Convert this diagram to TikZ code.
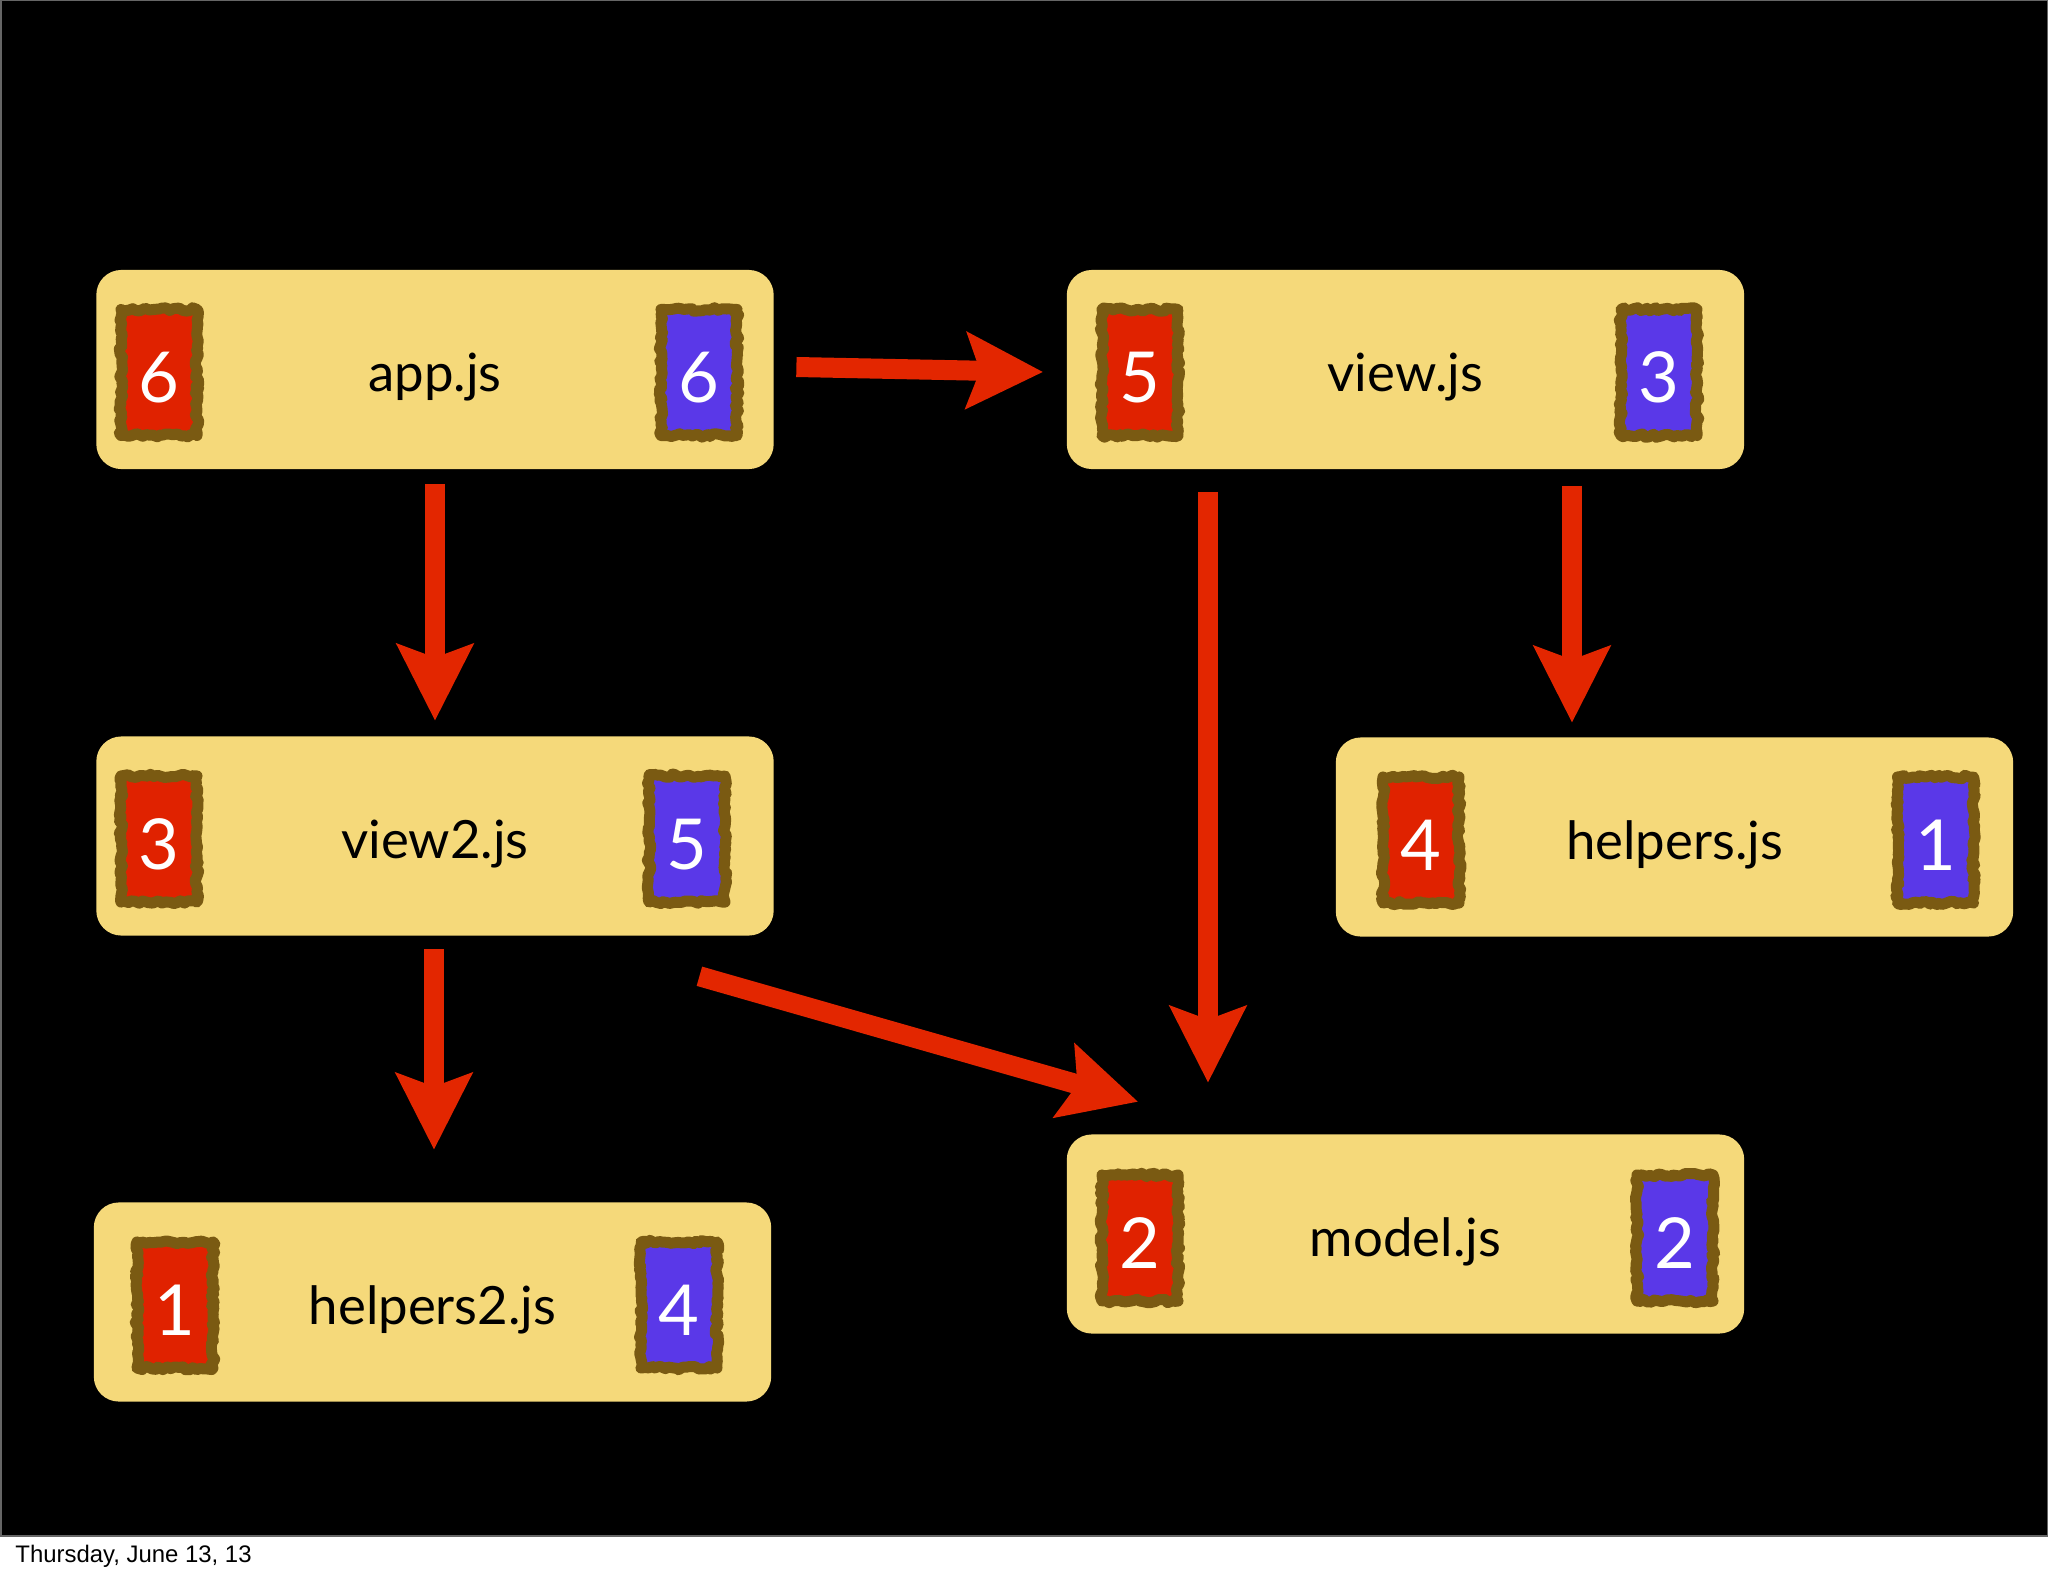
\documentclass[tikz,border=0pt]{standalone}
\usepackage{fontspec}
\setmainfont{Lato}
\newfontfamily\datefont{Liberation Sans}
\usetikzlibrary{arrows.meta,calc,decorations.pathmorphing}

\definecolor{parchment}{HTML}{F5D97A}
\definecolor{badgered}{HTML}{E02200}
\definecolor{badgeblue}{HTML}{5A38E8}
\definecolor{badgerim}{HTML}{7A5A12}
\definecolor{arrowred}{HTML}{E32600}

\tikzset{
  module/.style={shape=rectangle, rounded corners=0.25cm, fill=parchment,
    minimum width=6.77cm, minimum height=1.99cm, text height=0.44cm, text depth=0cm,
    font=\fontsize{15}{15}\selectfont},
  count/.style={shape=rectangle, draw=badgerim, line width=0.11cm, line join=round,
    minimum width=0.76cm, minimum height=1.26cm, inner sep=0pt, text=white,
    text height=0.6cm, text depth=0cm, font=\fontsize{20}{20}\selectfont,
    decorate, decoration={random steps, segment length=1pt, amplitude=0.5pt}},
  incount/.style={count, fill=badgered},
  outcount/.style={count, fill=badgeblue},
  dep/.style={draw=arrowred, line width=0.2cm,
    -{Stealth[length=0.76cm, width=0.75cm, inset=0.13cm]}}
}
\pgfmathsetseed{7}

\begin{document}
\begin{tikzpicture}[x=0.01cm, y=-0.01cm]
  \useasboundingbox (0,0) rectangle (2048,1576);
  \fill [white] (0,0) rectangle (2048,1576);
  \draw [fill=black, draw=black!60, line width=0.02cm] (0.5,0.5) rectangle (2047.5,1535.5);
  \node at (3,1562) [anchor=base west, font=\datefont\fontsize{6.8}{8}\selectfont] (date) {Thursday, June 13, 13};

  % modules
  \node at (435,369.5) [module] (app) {app.js};
  \node at (1405.5,369.5) [module] (view) {view.js};
  \node at (435,836) [module] (view2) {view2.js};
  \node at (1674.5,837) [module] (helpers) {helpers.js};
  \node at (432.5,1302) [module] (helpers2) {helpers2.js};
  \node at (1405.5,1234) [module] (model) {model.js};

  % counts, red left, blue right
  \node at ($(app)+(-276,3)$) [incount] (appin) {6};
  \node at ($(app)+(264,3)$) [outcount] (appout) {6};
  \node at ($(view)+(-265.5,3)$) [incount] (viewin) {5};
  \node at ($(view)+(253.5,3)$) [outcount] (viewout) {3};
  \node at ($(view2)+(-276,3)$) [incount] (view2in) {3};
  \node at ($(view2)+(252,3)$) [outcount] (view2out) {5};
  \node at ($(helpers)+(-253.5,3)$) [incount] (helpersin) {4};
  \node at ($(helpers)+(261,3)$) [outcount] (helpersout) {1};
  \node at ($(helpers2)+(-257.5,3)$) [incount] (helpers2in) {1};
  \node at ($(helpers2)+(246.5,3)$) [outcount] (helpers2out) {4};
  \node at ($(model)+(-265.5,4)$) [incount] (modelin) {2};
  \node at ($(model)+(269.5,4)$) [outcount] (modelout) {2};

  % dependencies
  \draw [dep] ($(app.east)+(22,-2.5)$) -- ($(view.west)+(-23,2.5)$);
  \draw [dep] ($(app.south)+(0,14)$) -- ($(view2.north)+(0,-15)$);
  \draw [dep] ($(view.south)+(-197.5,22)$) -- ($(model.north)+(-197.5,-51)$);
  \draw [dep] ($(view.south)+(166.5,16)$) -- ($(helpers.north)+(-102.5,-14)$);
  \draw [dep] ($(view2.south)+(-1,13)$) -- ($(helpers2.north)+(1.5,-52)$);
  \draw [dep] ($(view2.south east)+(-75,40)$) -- ($(model.north west)+(72,-32)$);
\end{tikzpicture}
\end{document}
